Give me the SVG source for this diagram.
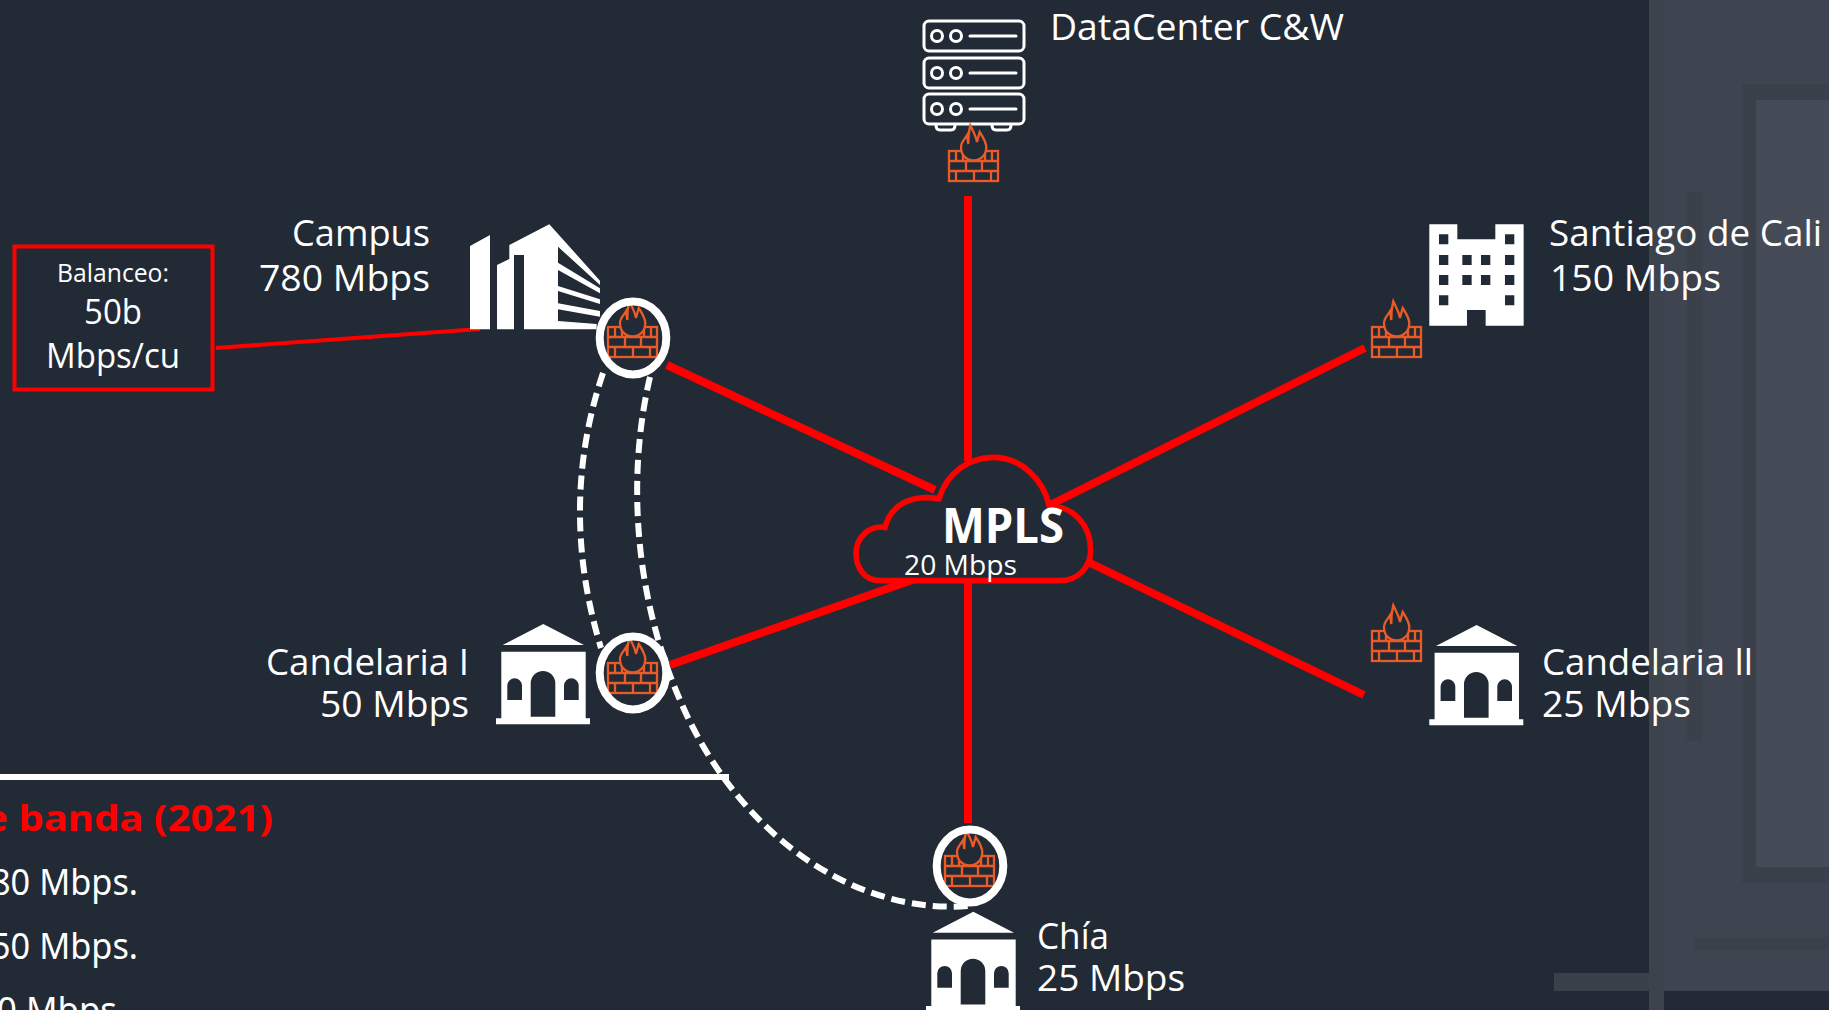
<svg xmlns="http://www.w3.org/2000/svg" xmlns:xlink="http://www.w3.org/1999/xlink" width="1829" height="1010" viewBox="0 0 1829 1010">
<style>
text{font-family:"Open Sans","Noto Sans",sans-serif;fill:#fff}
.l{font-size:36px}
.sm{font-size:25px}
.md{font-size:34px}
.b{font-family:"Noto Sans","Open Sans",sans-serif;font-size:36px}
.red{stroke:#f00;stroke-width:8;fill:none}
.dash{stroke:#fff;stroke-width:6;fill:none;stroke-dasharray:14 7}
.ring{stroke:#fff;stroke-width:8;fill:none}
.srv{stroke:#fff;stroke-width:3;fill:none}
.w{fill:#fff}
</style>
<defs>
<g id="fw" fill="none" stroke="#ea5b27" stroke-width="2.3">
<rect x="0" y="0" width="49" height="30"/>
<path d="M0,10H49M0,20H49M7,0V10M14,0V10M36,0V10M43,0V10M17,10V20M33,10V20M7,20V30M25,20V30M42,20V30"/>
<path fill="#222a35" d="M24.7,9.3C16,9.3 12,3 12,-4C12,-9 16,-12 18,-15.7L19.3,-7C19,-14 20,-20 21.3,-25.7C24,-20 27,-15 28,-9L30.7,-19C34,-14 37.3,-9 37.3,-4C37.3,3 33,9.3 24.7,9.3Z"/>
</g>
<path id="temple" class="w" fill-rule="evenodd" d="M47.3,0L88,21H6.7ZM5.3,27.7H89.7V94.3H94V100.3H0V94.3H5.3ZM34.7,92.7H59.3V59.3A12.3,12.3 0 0 0 34.7,59.3ZM11.3,76H26V61.6A7.3,7.3 0 0 0 11.3,61.6ZM68,76H82.7V61.6A7.3,7.3 0 0 0 68,61.6Z"/>
</defs>
<rect width="1829" height="1010" fill="#222a35"/>
<g id="panel">
<rect x="1649" y="0" width="15" height="1010" fill="#3d434d"/>
<rect x="1664" y="0" width="165" height="991" fill="#3f4550"/>
<rect x="1554" y="973" width="95" height="18" fill="#3b414b"/>
<rect x="1687" y="192" width="15" height="549" fill="#3b414b"/>
<rect x="1742" y="84" width="87" height="799" fill="#3b414b"/>
<rect x="1756" y="100" width="73" height="767" fill="#464c57"/>
<rect x="1694" y="937" width="135" height="13" fill="#3b414b"/>
</g>
<g id="connectors">
<path class="red" d="M968,196V461M968,581V823M667,365L935,490M1365,348L1050,505M1364,695L1088,562M670,665L915,579"/>
<path stroke="#f00" stroke-width="4" fill="none" d="M216,348L480,329"/>
<path class="dash" d="M603,373Q558,507 601,648"/>
<path class="dash" d="M650,377C628,470 632,590 680,700C735,830 850,915 968,906"/>
<rect x="0" y="774" width="729" height="6" fill="#fff"/>
</g>
<g id="mpls">
<path transform="translate(840,430) scale(.3333)" fill="#222a35" stroke="#f00" stroke-width="17" d="M120,452C75,452 48,415 48,370C48,325 85,285 135,292C150,235 200,190 297,206C320,130 385,82 460,82C545,82 610,150 628,228C700,228 752,285 752,360C752,415 710,452 660,452Z"/>
<text x="942" y="543" font-size="48" font-weight="700" textLength="122" lengthAdjust="spacingAndGlyphs">MPLS</text>
<text x="904" y="575" font-size="28" textLength="113" lengthAdjust="spacingAndGlyphs">20 Mbps</text>
</g>
<g id="datacenter">
<g class="srv">
<rect x="924" y="21" width="100" height="30" rx="5"/><rect x="924" y="58" width="100" height="30" rx="5"/><rect x="924" y="94" width="100" height="30" rx="5"/>
<circle cx="937" cy="36" r="5.5"/><circle cx="956" cy="36" r="5.5"/><circle cx="937" cy="73" r="5.5"/><circle cx="956" cy="73" r="5.5"/><circle cx="937" cy="109" r="5.5"/><circle cx="956" cy="109" r="5.5"/>
<path stroke-linecap="round" d="M970,36H1016M970,73H1016M970,109H1016M936,125Q936,130 940,130H951Q955,130 955,125M992,125Q992,130 996,130H1007Q1011,130 1011,125"/>
</g>
<use xlink:href="#fw" href="#fw" x="949" y="151"/>
<text class="l" x="1050" y="40" textLength="294" lengthAdjust="spacingAndGlyphs">DataCenter C&amp;W</text>
</g>
<g id="campus">
<path transform="translate(440,210) scale(.3333)" class="w" d="M90,108L150,75V358H90ZM171,165L208,147V105L328,43L480,212V225L354,110V333L470,342V358H252V135H222V358H171ZM354,158L480,235V250L354,180ZM354,228L480,268V282L354,243ZM354,280L480,303V320L354,298Z"/>
<use xlink:href="#fw" href="#fw" x="608" y="327"/>
<ellipse class="ring" cx="633" cy="338" rx="33.3" ry="36.5"/>
<text class="l" x="292" y="246" textLength="138" lengthAdjust="spacingAndGlyphs">Campus</text>
<text class="l" x="259" y="291" textLength="171" lengthAdjust="spacingAndGlyphs">780 Mbps</text>
</g>
<g id="balanceo">
<rect x="14.5" y="246.5" width="198" height="143" fill="none" stroke="#f00" stroke-width="4"/>
<text class="sm" x="57" y="282" textLength="112" lengthAdjust="spacingAndGlyphs">Balanceo:</text>
<text class="md" x="84" y="324" textLength="58" lengthAdjust="spacingAndGlyphs">50b</text>
<text class="md" x="46" y="368" textLength="134" lengthAdjust="spacingAndGlyphs">Mbps/cu</text>
</g>
<g id="cali">
<path transform="translate(1340,200) scale(.3333)" class="w" fill-rule="evenodd" d="M268,73H352V118H466V73H551V377H437V330H381V377H268ZM297,103h28v30h-28ZM495,103h28v30h-28ZM297,165h28v30h-28ZM367,165h28v30h-28ZM423,165h28v30h-28ZM495,165h28v30h-28ZM297,225h28v30h-28ZM367,225h28v30h-28ZM423,225h28v30h-28ZM495,225h28v30h-28ZM297,286h28v30h-28ZM495,286h28v30h-28Z"/>
<use xlink:href="#fw" href="#fw" x="1372" y="327"/>
<text class="l" x="1549" y="246" textLength="273" lengthAdjust="spacingAndGlyphs">Santiago de Cali</text>
<text class="l" x="1550" y="291" textLength="171" lengthAdjust="spacingAndGlyphs">150 Mbps</text>
</g>
<g id="candelaria2">
<use xlink:href="#temple" href="#temple" x="1429.3" y="625"/>
<use xlink:href="#fw" href="#fw" x="1372" y="631"/>
<text class="l" x="1542" y="675" textLength="211" lengthAdjust="spacingAndGlyphs">Candelaria ll</text>
<text class="l" x="1542" y="717" textLength="149" lengthAdjust="spacingAndGlyphs">25 Mbps</text>
</g>
<g id="candelaria1">
<use xlink:href="#temple" href="#temple" x="496" y="624"/>
<use xlink:href="#fw" href="#fw" x="608" y="663"/>
<ellipse class="ring" cx="633" cy="673" rx="33.3" ry="36.5"/>
<text class="l" x="266" y="675" textLength="203" lengthAdjust="spacingAndGlyphs">Candelaria I</text>
<text class="l" x="320" y="717" textLength="149" lengthAdjust="spacingAndGlyphs">50 Mbps</text>
</g>
<g id="chia">
<use xlink:href="#temple" href="#temple" x="926" y="911.7"/>
<use xlink:href="#fw" href="#fw" x="945" y="856"/>
<ellipse class="ring" cx="970" cy="866" rx="33.3" ry="36.5"/>
<text class="l" x="1037" y="949" textLength="72" lengthAdjust="spacingAndGlyphs">Chía</text>
<text class="l" x="1037" y="991" textLength="148" lengthAdjust="spacingAndGlyphs">25 Mbps</text>
</g>
<g id="notes">
<text class="b" x="-16" y="831" style="fill:#f00" font-weight="700" textLength="289" lengthAdjust="spacingAndGlyphs">e banda (2021)</text>
<text class="b" x="-9" y="895" textLength="147" lengthAdjust="spacingAndGlyphs">80 Mbps.</text>
<text class="b" x="-9" y="959" textLength="147" lengthAdjust="spacingAndGlyphs">50 Mbps.</text>
<text class="b" x="-3" y="1023" textLength="120" lengthAdjust="spacingAndGlyphs">0 Mbps</text>
</g>
</svg>
